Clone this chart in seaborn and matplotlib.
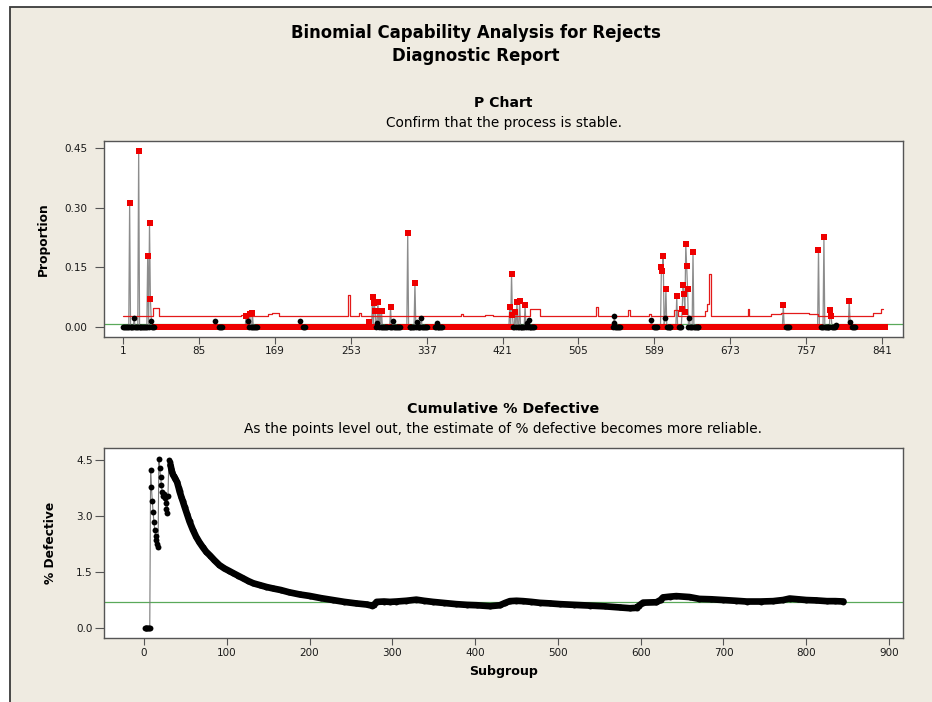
import numpy as np
import pandas as pd
import matplotlib.pyplot as plt
import seaborn as sns
from matplotlib.patches import Rectangle

# ---- P chart data ----
n_sub = 845

# subgroups flagged red (failed a test) with nonzero proportion
red_sub = [8, 18, 28, 30, 31, 137, 141, 144, 273, 277, 279, 280, 283, 285, 287, 297,
           316, 324, 429, 431, 432, 435, 437, 440, 446, 597, 598, 599, 602, 614, 620,
           621, 622, 623, 624, 625, 626, 632, 732, 771, 777, 784, 785, 805]
red_p = [0.311, 0.443, 0.179, 0.261, 0.070, 0.029, 0.033, 0.035, 0.012, 0.076, 0.060,
         0.040, 0.064, 0.040, 0.040, 0.050, 0.237, 0.112, 0.051, 0.133, 0.030, 0.038,
         0.064, 0.066, 0.055, 0.150, 0.142, 0.179, 0.095, 0.078, 0.045, 0.105, 0.083,
         0.038, 0.208, 0.154, 0.095, 0.189, 0.055, 0.194, 0.227, 0.043, 0.028, 0.066]

# in-control subgroups with nonzero proportion
black_sub = [13, 32, 103, 139, 197, 282, 300, 326, 331, 348, 448, 450, 544, 545, 586,
             601, 628, 790, 806]
black_p = [0.024, 0.016, 0.015, 0.016, 0.015, 0.011, 0.015, 0.013, 0.024, 0.009, 0.010,
           0.019, 0.010, 0.028, 0.019, 0.024, 0.024, 0.004, 0.013]

# zero-proportion subgroups that are in control (all other zeros are flagged)
black_runs = [(1, 35), (107, 110), (139, 149), (200, 202), (280, 293), (296, 307),
              (318, 337), (346, 354), (433, 456), (543, 551), (589, 592), (601, 607),
              (617, 621), (623, 638), (735, 738), (774, 789), (808, 811)]

# upper control limit (changes with subgroup size)
ucl_start = [1, 34, 40, 131, 137, 161, 166, 173, 250, 252, 262, 264, 375, 377, 402,
             411, 451, 462, 525, 527, 560, 562, 583, 585, 611, 615, 645, 647, 650, 652,
             693, 694, 718, 730, 760, 770, 800, 831, 840, 842]
ucl_value = [0.028, 0.047, 0.029, 0.031, 0.029, 0.033, 0.035, 0.029, 0.081, 0.029,
             0.036, 0.029, 0.032, 0.029, 0.031, 0.029, 0.045, 0.029, 0.050, 0.029,
             0.044, 0.029, 0.032, 0.029, 0.042, 0.029, 0.040, 0.058, 0.133, 0.029,
             0.045, 0.029, 0.033, 0.035, 0.034, 0.029, 0.027, 0.035, 0.045, 0.045]
center_p = 0.007

# ---- cumulative % defective ----
cum_sub = [1, 2, 3, 4, 5, 6, 7, 8, 9, 10, 11, 12, 13, 14, 15, 16, 17, 18, 19, 20,
           21, 22, 23, 24, 25, 26, 27, 28, 29, 30, 31, 32, 33, 34, 35, 36, 37, 38,
           40, 42, 43, 45, 47, 49, 52, 55, 59, 63, 67, 71, 75, 80, 85, 91, 97, 103,
           108, 114, 120, 126, 132, 140, 148, 156, 165, 175, 188, 200, 214, 228, 242,
           256, 269, 275, 278, 281, 290, 297, 305, 317, 329, 338, 349, 363, 377, 390,
           402, 418, 430, 436, 442, 450, 458, 468, 478, 490, 502, 520, 539, 557, 575,
           587, 595, 598, 603, 619, 624, 627, 635, 643, 659, 671, 685, 700, 715, 728,
           745, 760, 772, 780, 790, 800, 812, 825, 835, 845]
cum_pct = [0.0, 0.0, 0.0, 0.0, 0.0, 0.0, 0.0, 4.25, 3.78, 3.42, 3.12, 2.85, 2.62, 2.48,
           2.36, 2.26, 2.18, 4.55, 4.30, 4.05, 3.85, 3.65, 3.55, 3.60, 3.48, 3.35, 3.20,
           3.10, 3.55, 4.50, 4.45, 4.38, 4.28, 4.18, 4.12, 4.08, 4.04, 4.00, 3.92, 3.76,
           3.67, 3.53, 3.40, 3.26, 3.06, 2.86, 2.64, 2.45, 2.30, 2.17, 2.05, 1.94, 1.82,
           1.69, 1.60, 1.53, 1.47, 1.40, 1.33, 1.26, 1.20, 1.15, 1.10, 1.06, 1.02, 0.96,
           0.90, 0.86, 0.80, 0.75, 0.70, 0.66, 0.63, 0.60, 0.62, 0.70, 0.71, 0.70, 0.71,
           0.73, 0.76, 0.73, 0.70, 0.67, 0.64, 0.62, 0.61, 0.585, 0.61, 0.67, 0.72, 0.73,
           0.72, 0.70, 0.675, 0.66, 0.64, 0.62, 0.60, 0.58, 0.55, 0.53, 0.54, 0.60, 0.68,
           0.69, 0.75, 0.82, 0.84, 0.855, 0.83, 0.78, 0.77, 0.75, 0.73, 0.71, 0.71, 0.72,
           0.75, 0.79, 0.77, 0.75, 0.74, 0.72, 0.72, 0.71]
target_pct = 0.70

# ---- build the P chart table ----
sub = np.arange(1, n_sub + 1)
prop = np.zeros(n_sub)
flagged = np.ones(n_sub, dtype=bool)
for a, b in black_runs:
    flagged[a - 1:b] = False
prop[np.array(red_sub) - 1] = red_p
flagged[np.array(red_sub) - 1] = True
prop[np.array(black_sub) - 1] = black_p
flagged[np.array(black_sub) - 1] = False
pchart = pd.DataFrame({'Subgroup': sub, 'Proportion': prop, 'Flagged': flagged})
ucl = pd.DataFrame({'Subgroup': ucl_start, 'UCL': ucl_value})
cum = pd.DataFrame({'Subgroup': cum_sub, 'Pct': cum_pct})

sns.set_style('white')
plt.rcParams['font.family'] = ['DejaVu Sans']
plt.rcParams['text.color'] = 'black'
plt.rcParams['axes.labelcolor'] = 'black'
bg = '#EFEBE1'
spine_c = '#555555'

fig = plt.figure(figsize=(9.32, 7.02), dpi=100, facecolor='white')
fig.patches.append(Rectangle((10 / 932, -0.05), 1.0, 1 - 7 / 702 + 0.05,
                             transform=fig.transFigure, facecolor=bg,
                             edgecolor='#3a3a3a', linewidth=1.3, zorder=-5))

fig.text(476 / 932, 1 - 33 / 702, 'Binomial Capability Analysis for Rejects',
         ha='center', va='center', fontsize=11.9, fontweight='bold')
fig.text(476 / 932, 1 - 56 / 702, 'Diagnostic Report',
         ha='center', va='center', fontsize=11.9, fontweight='bold')


def style_axes(ax):
    ax.set_facecolor('white')
    for s in ax.spines.values():
        s.set_visible(True)
        s.set_color(spine_c)
        s.set_linewidth(1.0)
    ax.tick_params(direction='out', width=0.8, color=spine_c,
                   labelsize=7.5, labelcolor='#1a1a1a', bottom=True, left=True)
    ax.tick_params(axis='y', length=6.5)
    ax.tick_params(axis='x', length=5)


# ---- P chart ----
ax1 = fig.add_axes([104 / 932, 1 - 337 / 702, 799 / 932, 196 / 702])
style_axes(ax1)
ax1.axhline(center_p, color='#5aa95a', lw=0.9, zorder=1)
sns.lineplot(data=pchart, x='Subgroup', y='Proportion', ax=ax1, color='#8c8c8c',
             lw=0.9, estimator=None, sort=False, zorder=2)
sns.lineplot(data=ucl, x='Subgroup', y='UCL', ax=ax1, color='#e31a1a', lw=0.9,
             estimator=None, sort=False, drawstyle='steps-post', zorder=2)
sns.scatterplot(data=pchart[pchart['Flagged']], x='Subgroup', y='Proportion', ax=ax1,
                marker='s', color='#ee0000', s=21, linewidth=0, zorder=3)
sns.scatterplot(data=pchart[~pchart['Flagged']], x='Subgroup', y='Proportion', ax=ax1,
                marker='o', color='black', s=17, linewidth=0, zorder=4)
ax1.set_xlim(-20.4, 864.6)
ax1.set_ylim(-0.025, 0.468)
ax1.set_xticks(np.arange(1, 842, 84))
ax1.set_yticks([0, 0.15, 0.30, 0.45])
ax1.set_yticklabels(['0.00', '0.15', '0.30', '0.45'])
ax1.tick_params(axis='y', pad=5.5)
ax1.tick_params(axis='x', pad=1.5)
ax1.set_xlabel('')
ax1.set_ylabel('Proportion', fontsize=8.8, fontweight='bold')
ax1.yaxis.set_label_coords(-0.068, 0.5)
fig.text(503.5 / 932, 1 - 103 / 702, 'P Chart', ha='center', va='center',
         fontsize=10.1, fontweight='bold')
fig.text(503.5 / 932, 1 - 123 / 702, 'Confirm that the process is stable.',
         ha='center', va='center', fontsize=9.8)

# ---- cumulative % defective ----
ax2 = fig.add_axes([104 / 932, 1 - 638 / 702, 799 / 932, 190 / 702])
style_axes(ax2)
ax2.axhline(target_pct, color='#5aa95a', lw=0.9, zorder=1)
sns.lineplot(data=cum, x='Subgroup', y='Pct', ax=ax2, color='#7a7a7a', lw=0.8,
             estimator=None, sort=False, zorder=2)
sns.lineplot(data=cum[cum['Subgroup'] >= 32], x='Subgroup', y='Pct', ax=ax2,
             color='black', lw=4.8, estimator=None, sort=False, zorder=3)
sns.scatterplot(data=cum, x='Subgroup', y='Pct', ax=ax2, marker='o', color='black',
                s=18, linewidth=0, zorder=4)
ax2.set_xlim(-48.3, 916.9)
ax2.set_ylim(-0.27, 4.834)
ax2.set_xticks(np.arange(0, 901, 100))
ax2.set_yticks([0, 1.5, 3.0, 4.5])
ax2.set_yticklabels(['0.0', '1.5', '3.0', '4.5'])
ax2.tick_params(axis='y', pad=1.5)
ax2.tick_params(axis='x', pad=2)
ax2.set_xlabel('Subgroup', fontsize=9.1, fontweight='bold', labelpad=5)
ax2.set_ylabel('% Defective', fontsize=8.8, fontweight='bold')
ax2.yaxis.set_label_coords(-0.059, 0.5)
fig.text(503.5 / 932, 1 - 409 / 702, 'Cumulative % Defective', ha='center',
         va='center', fontsize=10.3, fontweight='bold')
fig.text(503.5 / 932, 1 - 429 / 702,
         'As the points level out, the estimate of % defective becomes more reliable.',
         ha='center', va='center', fontsize=9.8)

fig.savefig('out.png', dpi=100, facecolor='white')
